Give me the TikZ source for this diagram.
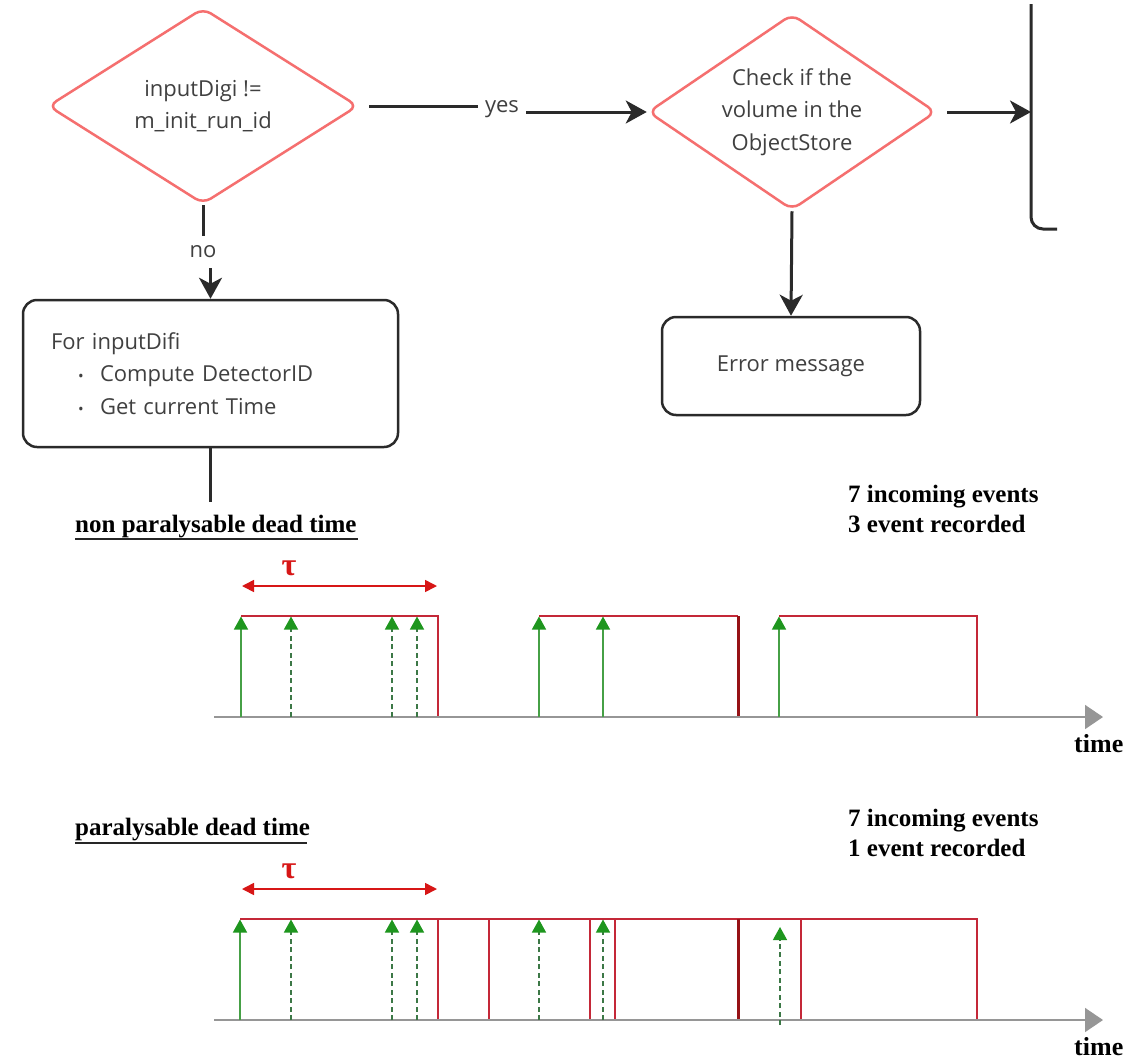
\documentclass[tikz,border=0pt]{standalone}
\usepackage{fontspec}
\setmainfont{Open Sans}
\newfontfamily\tnr{Liberation Serif}
\usetikzlibrary{arrows.meta,shapes.geometric,calc}
\definecolor{txtgray}{HTML}{404040}
\definecolor{lineblack}{HTML}{2A2A2A}
\definecolor{diamred}{HTML}{F56F6F}
\definecolor{plotred}{RGB}{196,40,56}
\definecolor{darkred}{RGB}{150,18,22}
\definecolor{taured}{RGB}{215,22,22}
\definecolor{gsolid}{RGB}{70,160,70}
\definecolor{gdash}{RGB}{60,120,70}
\definecolor{ghead}{RGB}{30,150,30}
\definecolor{axisgray}{RGB}{150,150,150}
\begin{document}
\begin{tikzpicture}[x=1pt,y=-1pt,
  flowtxt/.style={font=\fontsize{22}{32.5}\selectfont, text=txtgray},
  decision/.style={diamond, aspect=1.5, draw=diamred, line width=2.5pt, rounded corners=9pt, align=center, inner sep=0pt, flowtxt},
  proc/.style={draw=lineblack, line width=2.5pt, rounded corners=14pt, flowtxt},
  conn/.style={draw=lineblack, line width=3pt},
  arr/.style={conn, -{Stealth[length=21pt,width=23pt,inset=6pt]}},
  lbl/.style={flowtxt, fill=white, inner sep=0pt},
  serifbold/.style={font=\tnr\bfseries\fontsize{25}{30}\selectfont, text=black, inner sep=0pt, anchor=base west},
  redline/.style={draw=plotred, line width=1.4pt},
  thickred/.style={draw=darkred, line width=3pt},
  evsolid/.style={draw=gsolid, line width=1.4pt, -{Triangle[length=13pt,width=14pt,color=ghead]}},
  evdash/.style={draw=gdash, line width=1.4pt, dash pattern=on 5pt off 3.5pt, -{Triangle[length=13pt,width=14pt,color=ghead]}},
  tauarrow/.style={draw=taured, line width=1.6pt, {Triangle[length=12pt,width=12pt]}-{Triangle[length=12pt,width=12pt]}},
  taulbl/.style={font=\tnr\bfseries\fontsize{32}{32}\selectfont, text=taured, inner sep=0pt},
  axis/.style={draw=axisgray, line width=1.6pt, -{Triangle[length=18pt,width=24pt]}},
  uline/.style={draw=black!85, line width=1.6pt}
]
\fill[white] (0,0) rectangle (1145,1060);
\useasboundingbox (0,0) rectangle (1145,1060);

% ---------------- flowchart ----------------
\node[decision, minimum width=310pt, minimum height=196pt] (d1) at (203,106) {inputDigi !=\\m\_init\_run\_id};
\node[decision, minimum width=288pt, minimum height=196pt] (d2) at (792,112) {Check if the\\volume in the\\ObjectStore};
\node[proc, minimum width=375pt, minimum height=147pt, text width=319pt, inner xsep=28pt, align=left] (b1) at (210.5,373.5)
  {For inputDifi\\
   \hspace*{27pt}\makebox[22pt][l]{\fontsize{15}{15}\selectfont\textbullet}Compute DetectorID\\
   \hspace*{27pt}\makebox[22pt][l]{\fontsize{15}{15}\selectfont\textbullet}Get current Time};
\node[proc, minimum width=258pt, minimum height=98pt] (err) at (791,366) {Error message};

\node[lbl, minimum height=32pt] (nolbl) at (203,252) {no};
\node[lbl, inner xsep=7pt] (yeslbl) at (502,109) {yes};

\draw[conn] (d1.south) -- (nolbl.north);
\draw[arr] (nolbl.south -| b1.north) -- (b1.north);
\draw[conn] ([xshift=10pt]d1.east) -- (yeslbl.west |- d1.east);
\draw[arr] (yeslbl.east |- d2.west) -- (d2.west);
\coordinate (rb) at (1031,112);
\draw[arr] ([xshift=10pt]d2.east) -- (rb);
\draw[conn, rounded corners=12pt] (1031,4) -- (1031,229) -- (1057,229);
\draw[arr] (d2.south) -- (err.north);
\coordinate (b1end) at (210.5,502);
\draw[conn] (b1.south) -- (b1end);

% ---------------- non paralysable ----------------
\node[serifbold] (t1) at (75,532) {non paralysable dead time};
\draw[uline] (75,539) -- (358,539);
\node[serifbold] (c1a) at (848,502) {7 incoming events};
\node[serifbold] (c1b) at (848,532) {3 event recorded};
\node[taulbl] (tau1) at (289,568) {τ};
\draw[tauarrow] (242,586) -- (437,586);

\draw[redline] (241,616) -- (438,616) -- (438,717);
\draw[redline] (539,616) -- (738,616);
\draw[thickred] (738,616) -- (738,717);
\draw[redline] (779,616) -- (977,616) -- (977,717);
\draw[axis] (214,717) -- (1103,717);
\foreach \x in {241,539,603,779} \draw[evsolid] (\x,717) -- (\x,616.5);
\foreach \x in {291,392,417} \draw[evdash] (\x,717) -- (\x,616.5);
\node[serifbold, font=\tnr\bfseries\fontsize{26}{30}\selectfont] (time1) at (1074,752) {time};

% ---------------- paralysable ----------------
\node[serifbold] (t2) at (75,835) {paralysable dead time};
\draw[uline] (75,843) -- (307,843);
\node[serifbold] (c2a) at (848,826) {7 incoming events};
\node[serifbold] (c2b) at (848,856) {1 event recorded};
\node[taulbl] (tau2) at (289,871) {τ};
\draw[tauarrow] (242,889) -- (437,889);

\draw[redline] (240,919) -- (977,919) -- (977,1020);
\foreach \x in {438,489,590,615,801} \draw[redline] (\x,919) -- (\x,1020);
\draw[thickred] (738,919) -- (738,1020);
\draw[axis] (214,1020) -- (1103,1020);
\draw[evsolid] (240,1020) -- (240,919.5);
\foreach \x in {291,392,417,539,603} \draw[evdash] (\x,1020) -- (\x,919.5);
\draw[evdash] (780,1025) -- (780,927);
\node[serifbold, font=\tnr\bfseries\fontsize{26}{30}\selectfont] (time2) at (1074,1055) {time};
\end{tikzpicture}
\end{document}
